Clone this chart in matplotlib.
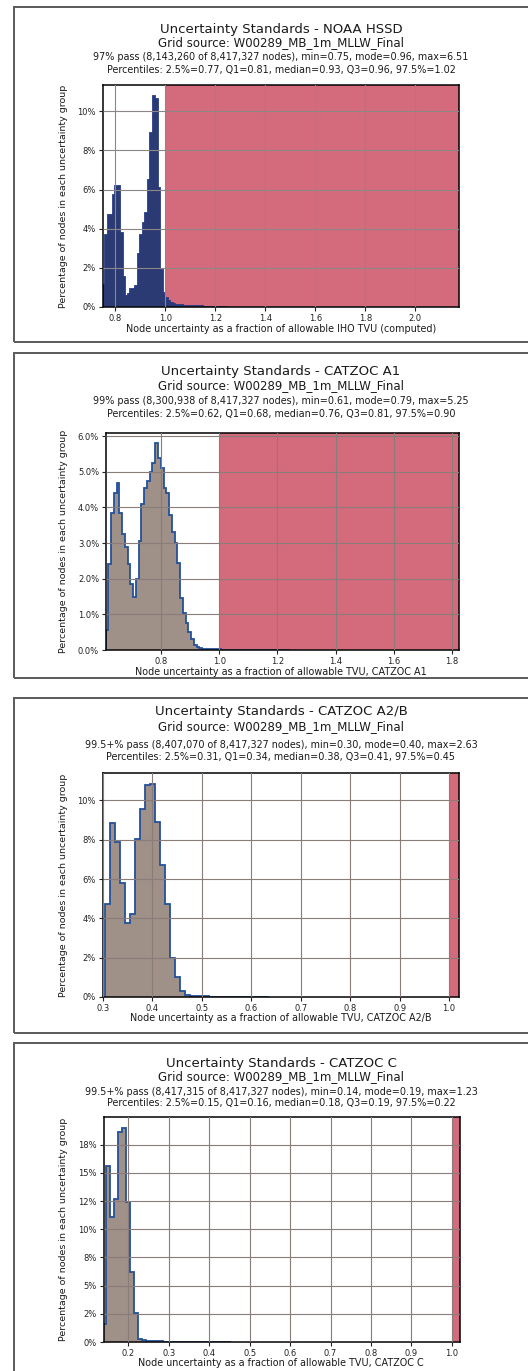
import matplotlib
matplotlib.use('Agg')
import matplotlib.pyplot as plt
from matplotlib.patches import Rectangle
from matplotlib.ticker import PercentFormatter, MultipleLocator
import numpy as np

W, H = 528, 1371
grid_source = 'Grid source: W00289_MB_1m_MLLW_Final'
ylabel = 'Percentage of nodes in each uncertainty group'

# --- NOAA HSSD ---
hssd_title = 'Uncertainty Standards - NOAA HSSD'
hssd_pass = '97% pass (8,143,260 of 8,417,327 nodes), min=0.75, mode=0.96, max=6.51'
hssd_pctl = 'Percentiles: 2.5%=0.77, Q1=0.81, median=0.93, Q3=0.96, 97.5%=1.02'
hssd_xlabel = 'Node uncertainty as a fraction of allowable IHO TVU (computed)'
hssd_bin0, hssd_binw = 0.75, 0.01
hssd_pct = [1.1, 3.7, 4.7, 4.7, 5.7, 6.2, 6.2, 3.8, 1.55, 0.55,
            0.65, 0.9, 0.9, 1.05, 2.7, 3.7, 4.3, 4.8, 6.5, 8.9,
            10.8, 10.6, 6.1, 1.9, 0.7, 0.45, 0.3, 0.22, 0.16, 0.12,
            0.1, 0.08, 0.07, 0.06, 0.05, 0.04, 0.04, 0.03, 0.03, 0.03,
            0.02, 0.02, 0.02, 0.02, 0.01, 0.01, 0.01, 0.01, 0.01, 0.01]
hssd_xlim = (0.75, 2.175)
hssd_limit = 1.0

# --- CATZOC A1 ---
a1_title = 'Uncertainty Standards - CATZOC A1'
a1_pass = '99% pass (8,300,938 of 8,417,327 nodes), min=0.61, mode=0.79, max=5.25'
a1_pctl = 'Percentiles: 2.5%=0.62, Q1=0.68, median=0.76, Q3=0.81, 97.5%=0.90'
a1_xlabel = 'Node uncertainty as a fraction of allowable TVU, CATZOC A1'
a1_bin0, a1_binw = 0.6085, 0.0095
a1_pct = [0.55, 2.4, 3.85, 4.4, 4.7, 3.85, 3.25, 2.9, 2.4, 1.85,
          1.5, 2.0, 3.05, 4.1, 4.55, 4.75, 5.0, 5.25, 5.8, 5.4,
          5.1, 4.55, 4.4, 3.8, 3.3, 3.0, 2.45, 1.45, 1.05, 0.75,
          0.5, 0.3, 0.15, 0.08, 0.05, 0.04, 0.03, 0.03, 0.02, 0.02,
          0.02, 0.02, 0.01, 0.01, 0.01, 0.01, 0.01, 0.01, 0.01, 0.01,
          0.01, 0.01, 0.01, 0.01, 0.01, 0.01, 0.01, 0.01, 0.01, 0.01,
          0.01, 0.01, 0.01, 0.01, 0.01, 0.01, 0.01]
a1_xlim = (0.61, 1.825)
a1_limit = 1.0

# --- CATZOC A2/B ---
a2_title = 'Uncertainty Standards - CATZOC A2/B'
a2_pass = '99.5+% pass (8,407,070 of 8,417,327 nodes), min=0.30, mode=0.40, max=2.63'
a2_pctl = 'Percentiles: 2.5%=0.31, Q1=0.34, median=0.38, Q3=0.41, 97.5%=0.45'
a2_xlabel = 'Node uncertainty as a fraction of allowable TVU, CATZOC A2/B'
a2_bin0, a2_binw = 0.305, 0.01
a2_pct = [4.73, 8.84, 7.87, 5.78, 3.74, 4.2, 8.04, 9.54, 10.8, 10.85,
          8.9, 6.7, 4.73, 1.97, 1.0, 0.29, 0.08, 0.05, 0.04, 0.03,
          0.03, 0.02, 0.02, 0.02, 0.02, 0.01, 0.01, 0.01, 0.01, 0.01,
          0.01, 0.01, 0.01]
a2_xlim = (0.30, 1.02)
a2_limit = 1.0

# --- CATZOC C ---
c_title = 'Uncertainty Standards - CATZOC C'
c_pass = '99.5+% pass (8,417,315 of 8,417,327 nodes), min=0.14, mode=0.19, max=1.23'
c_pctl = 'Percentiles: 2.5%=0.15, Q1=0.16, median=0.18, Q3=0.19, 97.5%=0.22'
c_xlabel = 'Node uncertainty as a fraction of allowable TVU, CATZOC C'
c_bin0, c_binw = 0.135, 0.01
c_pct = [1.58, 15.57, 11.1, 12.7, 18.6, 19.0, 12.4, 6.2, 2.6, 0.3,
         0.2, 0.1, 0.08, 0.06, 0.05, 0.04, 0.03, 0.02, 0.02, 0.01,
         0.01, 0.01, 0.01, 0.01, 0.01, 0.01, 0.01, 0.01, 0.01, 0.01,
         0.01, 0.01]
c_xlim = (0.14, 1.02)
c_limit = 1.0

RED = '#d46b7c'

fig = plt.figure(figsize=(W / 100, H / 100), dpi=100)
fig.patch.set_facecolor('white')


def box(x0, y0, x1, y1):
    return [x0 / W, 1 - y1 / H, (x1 - x0) / W, (y1 - y0) / H]


def fy(y):
    return 1 - y / H


def panel(rect, frame, texts, text_y, xlabel, xlabel_y, bin0, binw, pct,
          xlim, limit, xstep, ystep, ydec, fill, edge, gridc):
    # panel frame
    fig.patches.append(Rectangle((14 / W, fy(frame[1])), 560 / W,
                                 (frame[1] - frame[0]) / H,
                                 transform=fig.transFigure, fill=False,
                                 edgecolor='#5a5a5a', lw=1.4))
    sizes = [9.5, 8.5, 6.9, 6.9]
    for t, y, s in zip(texts, text_y, sizes):
        fig.text(281 / W, fy(y), t, ha='center', va='center', fontsize=s,
                 color='#1a1a1a')
    ax = fig.add_axes(box(*rect))
    edges = bin0 + binw * np.arange(len(pct) + 1)
    ax.stairs(pct, edges, fill=True, facecolor=fill, edgecolor='none', zorder=2)
    ax.stairs(pct, edges, color=edge, lw=1.3, zorder=2.2)
    ax.axvspan(limit, xlim[1] + 1, color=RED, zorder=1, lw=0)
    ax.set_xlim(*xlim)
    ax.xaxis.set_major_locator(MultipleLocator(xstep))
    ax.yaxis.set_major_locator(MultipleLocator(ystep))
    ax.yaxis.set_major_formatter(PercentFormatter(decimals=ydec))
    ax.grid(True, color=gridc, lw=0.8)
    ax.set_axisbelow(False)
    ax.tick_params(labelsize=6, length=3, width=0.8, pad=2, colors='#222222')
    for s in ax.spines.values():
        s.set_linewidth(1.1)
        s.set_color('black')
    fig.text(281 / W, fy(xlabel_y), xlabel, ha='center', va='center',
             fontsize=6.9, color='#1a1a1a')
    fig.text(64 / W, 1 - (rect[1] + rect[3]) / 2 / H, ylabel, ha='center',
             va='center', rotation=90, fontsize=6.8, color='#1a1a1a')
    return ax


panel((103, 85, 459, 307), (7, 342),
      [hssd_title, grid_source, hssd_pass, hssd_pctl], [29, 43, 57, 70],
      hssd_xlabel, 329, hssd_bin0, hssd_binw, hssd_pct, hssd_xlim, hssd_limit,
      0.2, 2, 0, '#2b3a72', '#263a80', '#8c8686')

panel((106, 433, 459, 650), (353, 678),
      [a1_title, grid_source, a1_pass, a1_pctl], [372, 386, 401, 414],
      a1_xlabel, 672, a1_bin0, a1_binw, a1_pct, a1_xlim, a1_limit,
      0.2, 1, 1, '#9f9088', '#24509a', '#8a7c78')

panel((103, 773, 459, 997), (698, 1033),
      [a2_title, grid_source, a2_pass, a2_pctl], [712, 727, 745, 757],
      a2_xlabel, 1018, a2_bin0, a2_binw, a2_pct, a2_xlim, a2_limit,
      0.1, 2, 0, '#9f9088', '#24509a', '#8a7c78')

panel((104, 1117, 460, 1342), (1043, 1380),
      [c_title, grid_source, c_pass, c_pctl], [1063, 1077, 1092, 1103],
      c_xlabel, 1363, c_bin0, c_binw, c_pct, c_xlim, c_limit,
      0.1, 2.5, 0, '#9f9088', '#24509a', '#8a7c78')

fig.savefig('out.png', dpi=100)
